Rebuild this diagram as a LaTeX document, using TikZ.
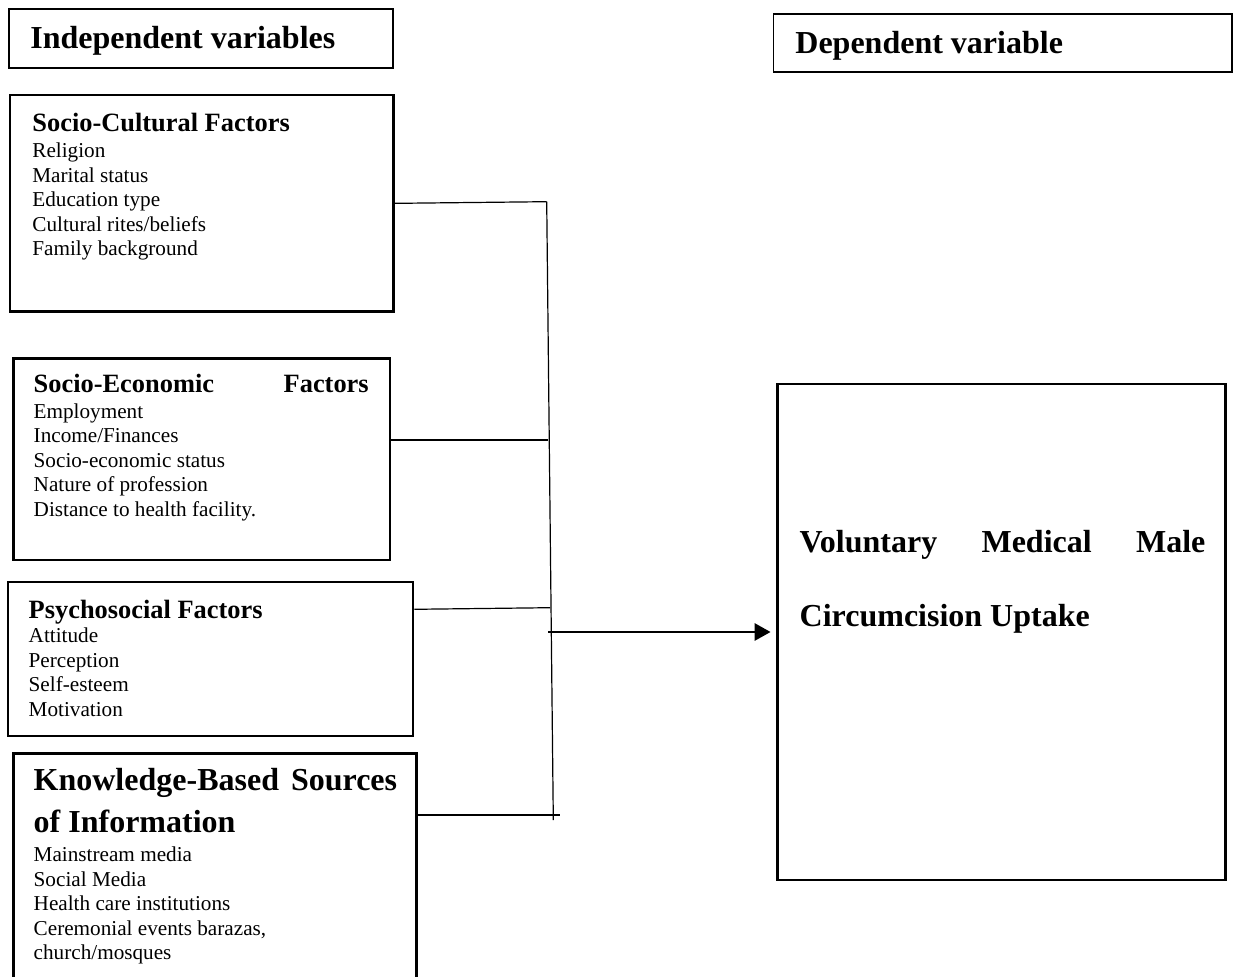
\documentclass[tikz,border=0pt]{standalone}
\usepackage{fontspec}
\setmainfont{Liberation Serif}
\usetikzlibrary{arrows.meta,fit}
\newcommand\bodysize{\fontsize{10.6}{12.25}\selectfont}
\newcommand\headsize{\fontsize{13.2}{15}\selectfont\bfseries}
\newcommand\bigsize{\fontsize{16}{21}\selectfont\bfseries}
\begin{document}
\begin{tikzpicture}[x=0.5pt, y=-0.5pt,
  box/.style={draw, line width=1.3pt, inner sep=0pt},
  titlebox/.style={draw, line width=0.9pt, inner sep=0pt},
  link/.style={line width=0.6pt},
  txt/.style={inner sep=0pt, anchor=base west, align=flush left}]
\useasboundingbox (0,0) rectangle (1234,977);
\node[titlebox, fit={(9.3,9.3) (393.3,68.3)}] (indep) {};
\node[titlebox, fit={(773.5,14) (1232,72)}] (dep) {};
\node[box, fit={(10,95) (393.3,311.7)}] (socult) {};
\node[box, fit={(13.3,358.3) (390,560)}] (socecon) {};
\node[box, fit={(8,582) (413,736)}] (psych) {};
\node[box, fit={(13.3,753.3) (416.7,995)}] (know) {};
\node[box, fit={(777.3,384) (1225.7,880)}] (vmmc) {};
\node[txt, font=\bigsize] (indeptext) at (30,48.3) {Independent variables};
\node[txt, font=\bigsize] (deptext) at (795,53.3) {Dependent variable};
\node[txt, font=\headsize] (soculthead) at (32,131.7) {Socio-Cultural Factors};
\node[txt, font=\bodysize, text width=150pt] (socultlist) at (32,157.7)
  {Religion\\Marital status\\Education type\\Cultural rites/beliefs\\Family background};
\node[txt, font=\headsize, text width=167.5pt] (socechead) at (33.3,393) {Socio-Economic\hfill Factors};
\node[txt, font=\bodysize, text width=160pt] (soceclist) at (33.3,418.3)
  {Employment\\Income/Finances\\Socio-economic status\\Nature of profession\\Distance to health facility.};
\node[txt, font=\headsize] (psychhead) at (28.3,618.3) {Psychosocial Factors};
\node[txt, font=\bodysize, text width=150pt] (psychlist) at (28.3,642.7)
  {Attitude\\Perception\\Self-esteem\\Motivation};
\node[txt, font=\bigsize, text width=181.7pt] (knowhead) at (33.3,790)
  {Knowledge-Based\hfill Sources\\of Information};
\node[txt, font=\bodysize, text width=170pt] (knowlist) at (33.3,861.5)
  {Mainstream media\\Social Media\\Health care institutions\\Ceremonial events barazas,\\church/mosques};
\node[txt, font=\bigsize\fontsize{16}{37}\selectfont, text width=202.85pt] (vmmctext) at (799.3,552)
  {Voluntary\hfill Medical\hfill Male\\Circumcision Uptake};
\coordinate (bus1) at (546.7,201.7);
\coordinate (bus2) at (548.3,440);
\coordinate (bus3) at (550,607.7);
\coordinate (bus4) at (553,815);
\coordinate (bustail) at (553.3,820);
\coordinate (knowend) at (560,815);
\coordinate (junction) at (548,632);
\draw[link] (bus1) -- (bustail);
\draw[link] (socult.east) -- (bus1);
\draw[link] (socecon.east |- bus2) -- (bus2);
\draw[link] (psych.east |- 0,609.3) -- (bus3);
\draw[link] (know.east |- bus4) -- (knowend);
\draw[-{Triangle[length=8pt,width=8.5pt]}, line width=1.4pt, shorten >=2.7pt] (junction) -- (vmmc.west);
\end{tikzpicture}
\end{document}
